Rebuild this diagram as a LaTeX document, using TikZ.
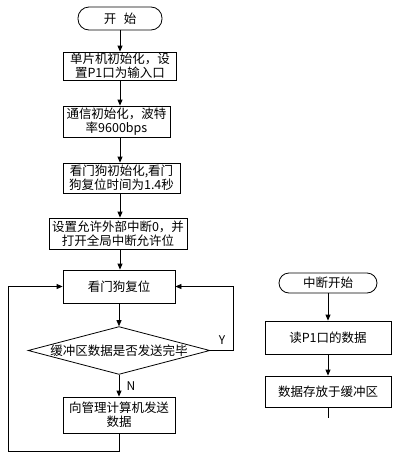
\documentclass[tikz,border=0pt]{standalone}
\usepackage{fontspec}
\setmainfont{Noto Sans CJK SC}
\usetikzlibrary{shapes.geometric,arrows.meta}
\tikzset{
  blk/.style={draw,inner sep=0pt,align=center,font=\fontsize{12.5}{14}\selectfont},
  term/.style={blk,rounded corners=10pt},
  arr/.style={-{Triangle[length=6pt,width=5pt]}},
}
\begin{document}
\begin{tikzpicture}[x=1pt,y=-1pt,line width=0.8pt]
\useasboundingbox (0,0) rectangle (400,453);
% main loop
\node[term,rounded corners=11pt,minimum width=84pt,minimum height=23pt] (st) at (120,18.5) {开\hspace{0.6em}始};
\node[blk,minimum width=113pt,minimum height=28pt] (b1) at (120,66) {单片机初始化，设\\置P1口为输入口};
\node[blk,minimum width=107pt,minimum height=31pt] (b2) at (116.5,121.5) {通信初始化，波特\\率9600bps};
\node[blk,minimum width=117pt,minimum height=30pt] (b3) at (121.5,178) {看门狗初始化,看门\\狗复位时间为1.4秒};
\node[blk,minimum width=138pt,minimum height=31pt] (b4) at (118,233.5) {设置允许外部中断0，并\\打开全局中断允许位};
\node[blk,minimum width=112pt,minimum height=33pt] (b5) at (119,286.5) {看门狗复位};
\node[blk,diamond,shape aspect=3.8,minimum width=180pt,minimum height=47pt] (dia) at (119,350.5) {缓冲区数据是否发送完毕};
\node[blk,minimum width=112pt,minimum height=36pt] (b6) at (119,415) {向管理计算机发送\\数据};
\draw[arr] (st) -- (st |- b1.north);
\draw[arr] (b1.south -| st) -- (st |- b2.north);
\draw[arr] (b2.south -| st) -- (st |- b3.north);
\draw[arr] (b3.south -| st) -- (st |- b4.north);
\draw[arr] (b4.south -| st) -- (st |- b5.north);
\draw[arr] (b5) -- (dia);
\draw[arr] (dia) -- node[right=4pt,font=\fontsize{12}{14}\selectfont] (nlab) {N} (b6);
\coordinate (yr) at (233,350.5);
\draw[arr] (dia.east) -- (yr) |- (b5.east);
\node[font=\fontsize{12}{14}\selectfont] (ylab) at (222,340) {Y};
\coordinate (lb) at (8,451.5);
\draw[arr] (b6.south) |- (lb) |- (b5.west);
% interrupt
\node[term,minimum width=98pt,minimum height=20pt] (ist) at (328,283) {中断开始};
\node[blk,minimum width=126pt,minimum height=33pt] (r1) at (328,337.5) {读P1口的数据};
\node[blk,minimum width=126pt,minimum height=31pt] (r2) at (328,391.5) {数据存放于缓冲区};
\coordinate (rend) at (328,418);
\draw[arr] (ist) -- (r1);
\draw[arr] (r1) -- (r2);
\draw (r2) -- (rend);
\end{tikzpicture}
\end{document}
